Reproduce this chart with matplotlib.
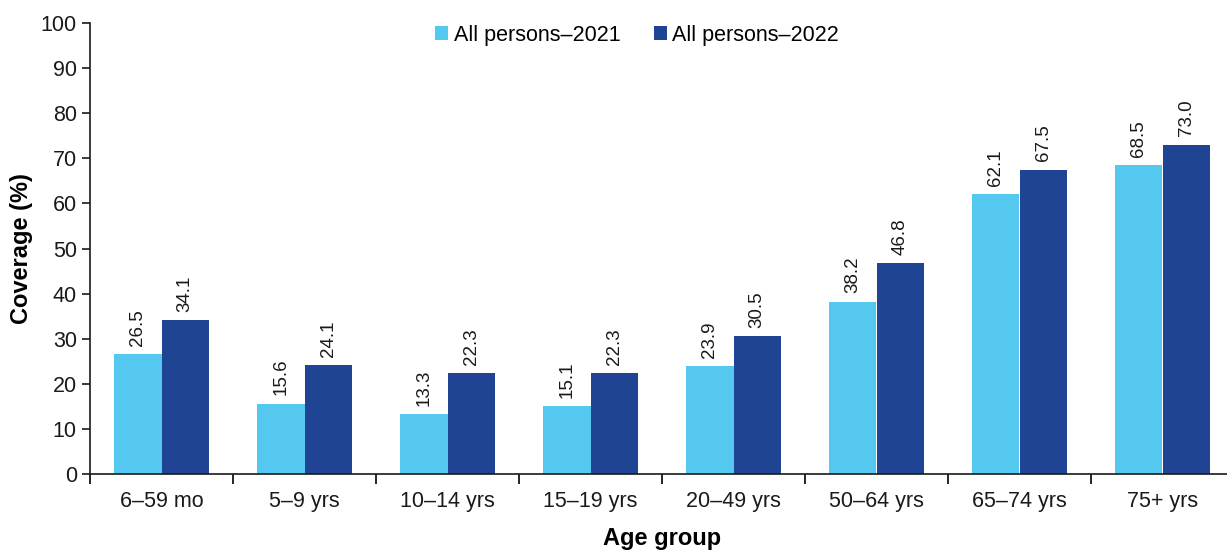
import matplotlib
matplotlib.use("Agg")
import matplotlib.pyplot as plt
import numpy as np

categories = ["6–59 mo", "5–9 yrs", "10–14 yrs", "15–19 yrs", "20–49 yrs", "50–64 yrs", "65–74 yrs", "75+ yrs"]
series_names = ["All persons–2021", "All persons–2022"]
values_2021 = [26.5, 15.6, 13.3, 15.1, 23.9, 38.2, 62.1, 68.5]
values_2022 = [34.1, 24.1, 22.3, 22.3, 30.5, 46.8, 67.5, 73.0]
y_ticks = [0, 10, 20, 30, 40, 50, 60, 70, 80, 90, 100]

plt.rcParams['font.family'] = ['Liberation Sans', 'DejaVu Sans']

W, H = 1227, 551
fig = plt.figure(figsize=(W / 100, H / 100), dpi=100)
left = 90 / W
bottom = (H - 474) / H
top = (H - 23) / H
ax = fig.add_axes([left, bottom, 1144 / W, top - bottom])

x = np.arange(len(categories))
bw = 0.332
c1, c2 = '#55C8F0', '#1F4493'
b1 = ax.bar(x - bw / 2, values_2021, bw, color=c1, label=series_names[0])
b2 = ax.bar(x + bw / 2, values_2022, bw, color=c2, label=series_names[1])

for bars, vals in ((b1, values_2021), (b2, values_2022)):
    for rect, v in zip(bars, vals):
        ax.annotate(f"{v:.1f}", (rect.get_x() + rect.get_width() / 2, v),
                    xytext=(0, 6), textcoords='offset points',
                    rotation=90, ha='center', va='bottom', fontsize=13.5, color='#1a1a1a')

ax.set_xlim(-0.5, len(categories) - 0.5)
ax.set_ylim(0, 100)
ax.set_yticks(y_ticks)
ax.tick_params(axis='y', labelsize=15.5, length=6, width=1.2, direction='out', colors='#1a1a1a')
ax.set_xticks(x)
ax.set_xticklabels(categories, fontsize=15.5, color='#1a1a1a')
ax.tick_params(axis='x', length=0, pad=12)
ax.set_xticks(np.arange(len(categories) + 1) - 0.5, minor=True)
ax.tick_params(axis='x', which='minor', length=7, width=1.2, direction='out')

for s in ('top', 'right'):
    ax.spines[s].set_visible(False)
for s in ('left', 'bottom'):
    ax.spines[s].set_linewidth(1.2)
    ax.spines[s].set_color('#1a1a1a')

ax.set_ylabel("Coverage (%)", fontsize=17, fontweight='bold', va='center')
ax.yaxis.set_label_coords(-68 / 1144, 0.5)
ax.set_xlabel("Age group", fontsize=17, fontweight='bold', va='baseline')
ax.xaxis.set_label_coords(0.5, -(545 - 474) / 451)

leg = ax.legend(loc='center', bbox_to_anchor=((637 - 90) / 1144, 1 - (35 - 23) / 451), ncol=2, frameon=False,
                fontsize=15.5, handlelength=0.6, handleheight=0.6, handletextpad=0.25, columnspacing=1.55)

fig.savefig("out.png", dpi=100)
